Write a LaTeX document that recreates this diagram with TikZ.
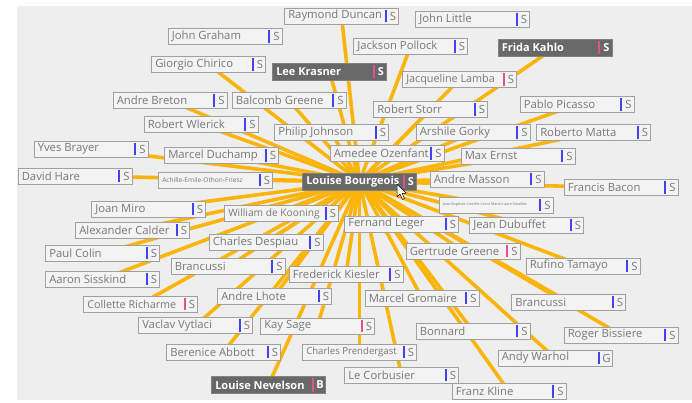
\documentclass[tikz,border=0pt]{standalone}
\usepackage{fontspec}
\newfontfamily\lab{Open Sans}
\definecolor{pagebg}{RGB}{238,238,238}
\definecolor{boxfill}{RGB}{243,243,243}
\definecolor{boxline}{RGB}{160,160,160}
\definecolor{labgray}{RGB}{120,120,120}
\definecolor{darkfill}{RGB}{104,104,104}
\definecolor{darkline}{RGB}{130,130,130}
\definecolor{barblue}{RGB}{66,66,238}
\definecolor{barpink}{RGB}{226,82,138}
\definecolor{linkor}{RGB}{250,180,10}
\pgfdeclarelayer{bg}
\pgfdeclarelayer{edges}
\pgfsetlayers{bg,edges,main}
\tikzset{
  pbox/.style={draw=boxline, fill=boxfill, line width=0.9pt, minimum width=114pt, minimum height=16pt, inner sep=0pt},
  dbox/.style={pbox, draw=darkline, fill=darkfill, minimum height=17pt},
  ptext/.style={anchor=west, inner sep=0pt, text=labgray, font=\lab\fontsize{11.3}{12}\selectfont},
  dtext/.style={ptext, text=white, font=\lab\bfseries\fontsize{11}{12}\selectfont},
  link/.style={draw=linkor, line width=3.6pt},
}
% #1 style (p/d), #2 name, #3 x, #4 y, #5 text, #6 bar colour, #7 letter
\newcommand\artist[7]{%
  \node[#1box] (#2) at (#3,#4) {};
  \node[#1text] (#2-t) at ([xshift=4pt]#2.west) {#5};
  \fill[#6] ([xshift=-14pt,yshift=-2pt]#2.north east) rectangle ([xshift=-12pt,yshift=2pt]#2.south east);
  \node[#1text, anchor=center] (#2-s) at ([xshift=-6pt]#2.east) {#7};
}
\begin{document}
\begin{tikzpicture}[x=1pt,y=-1pt]
\useasboundingbox (0,0) rectangle (692,403);
\begin{pgfonlayer}{bg}
  \fill[white] (0,0) rectangle (692,403);
  \fill[pagebg] (17,6) rectangle (692,400);
\end{pgfonlayer}

\artist{p}{ray}{341.5}{16}{Raymond Duncan}{barblue}{S}
\artist{p}{jli}{472.5}{19.5}{John Little}{barblue}{S}
\artist{p}{jgr}{225}{36.5}{John Graham}{barblue}{S}
\artist{p}{jpo}{410.5}{46.5}{Jackson Pollock}{barblue}{S}
\artist{d}{fri}{555}{47.5}{Frida Kahlo}{barpink}{S}
\artist{p}{chi}{208.5}{64.5}{Giorgio Chirico}{barblue}{S}
\artist{d}{kra}{329.5}{71.5}{Lee Krasner}{barpink}{S}
\artist{p}{lam}{459.5}{79.5}{{\fontsize{10.8}{11}\selectfont Jacqueline Lamba}}{barpink}{S}
\artist{p}{bre}{170}{100.5}{Andre Breton}{barblue}{S}
\artist{p}{bal}{289}{100.5}{Balcomb Greene}{barblue}{S}
\artist{p}{pic}{577}{104.5}{Pablo Picasso}{barblue}{S}
\artist{p}{sto}{430.5}{109.5}{Robert Storr}{barblue}{S}
\artist{p}{wle}{201}{124.5}{Robert Wlerick}{barblue}{S}
\artist{p}{phi}{331.5}{132.5}{Philip Johnson}{barblue}{S}
\artist{p}{gor}{473}{132.5}{Arshile Gorky}{barblue}{S}
\artist{p}{mat}{593.5}{132.5}{Roberto Matta}{barblue}{S}
\artist{p}{yve}{91}{149}{Yves Brayer}{barblue}{S}
\artist{p}{duc}{221.5}{155.5}{Marcel Duchamp}{barblue}{S}
\artist{p}{oze}{387}{153.5}{Amedee Ozenfant}{barblue}{S}
\artist{p}{ern}{518}{156}{Max Ernst}{barblue}{S}
\artist{p}{har}{75}{176}{David Hare}{barblue}{S}
\artist{p}{ach}{215.5}{180}{{\fontsize{6.6}{7}\selectfont Achille-Emile-Othon-Friesz}}{barblue}{S}
\artist{d}{lb}{359.5}{181.5}{Louise Bourgeois}{barpink}{S}
\artist{p}{mas}{487}{179}{Andre Masson}{barblue}{S}
\artist{p}{bac}{621}{187.5}{Francis Bacon}{barblue}{S}
\artist{p}{tin}{496}{205}{{\fontsize{3.7}{4}\selectfont Jean-Baptiste-Camille-Corot Marie-Laure-Noailles}}{barblue}{S}
\artist{p}{mir}{148.5}{209}{Joan Miro}{barblue}{S}
\artist{p}{koo}{281.5}{213.5}{{\fontsize{10.2}{11}\selectfont William de Kooning}}{barblue}{S}
\artist{p}{leg}{401.5}{224}{Fernand Leger}{barblue}{S}
\artist{p}{dub}{526.5}{225}{Jean Dubuffet}{barblue}{S}
\artist{p}{cal}{132.5}{230}{Alexander Calder}{barblue}{S}
\artist{p}{des}{266}{242.5}{Charles Despiau}{barblue}{S}
\artist{p}{col}{102.5}{253}{Paul Colin}{barblue}{S}
\artist{p}{gre}{463}{251}{Gertrude Greene}{barpink}{S}
\artist{p}{brl}{228}{266.5}{Brancussi}{barblue}{S}
\artist{p}{kie}{346}{274.5}{Frederick Kiesler}{barblue}{S}
\artist{p}{tam}{583}{266}{Rufino Tamayo}{barblue}{S}
\artist{p}{sis}{102.5}{279}{Aaron Sisskind}{barblue}{S}
\artist{p}{lho}{274.5}{296}{Andre Lhote}{barblue}{S}
\artist{p}{gro}{422}{298}{Marcel Gromaire}{barblue}{S}
\artist{p}{brr}{568.5}{302}{Brancussi}{barblue}{S}
\artist{p}{ric}{140.5}{304}{{\fontsize{10.8}{11}\selectfont Collette Richarme}}{barpink}{S}
\artist{p}{vyt}{195.5}{325.5}{Vaclav Vytlaci}{barblue}{S}
\artist{p}{sag}{317.5}{326}{Kay Sage}{barpink}{S}
\artist{p}{bon}{473}{331}{Bonnard}{barblue}{S}
\artist{p}{bis}{621}{335}{Roger Bissiere}{barblue}{S}
\artist{p}{abb}{223.5}{352}{Berenice Abbott}{barblue}{S}
\artist{p}{pre}{359.5}{352}{{\fontsize{9.6}{10}\selectfont Charles Prendergast}}{barblue}{S}
\artist{p}{war}{555}{358}{Andy Warhol}{barblue}{G}
\artist{d}{nev}{268.5}{385}{Louise Nevelson}{barpink}{B}
\artist{p}{cor}{401.5}{375}{Le Corbusier}{barblue}{S}
\artist{p}{kli}{509}{391.5}{Franz Kline}{barblue}{S}

\begin{pgfonlayer}{edges}
  \foreach \n in {ray,jpo,fri,chi,kra,lam,bre,bal,pic,sto,wle,phi,gor,mat,yve,duc,oze,ern,har,ach,mas,bac,tin,mir,koo,leg,dub,cal,des,col,gre,brl,kie,tam,sis,lho,gro,brr,ric,vyt,sag,bon,bis,abb,pre,war,nev,cor,kli}
    \draw[link] (lb.center) -- (\n.center);
\end{pgfonlayer}

% mouse pointer
\coordinate (tip) at (397,184);
\filldraw[fill=white, draw=black, line width=0.5pt, line join=round]
  (tip) -- ++(0,13) -- ++(3,-3) -- ++(2.5,5.5) -- ++(2,-1) -- ++(-2.5,-5.2) -- ++(4.2,0) -- cycle;
\end{tikzpicture}
\end{document}
